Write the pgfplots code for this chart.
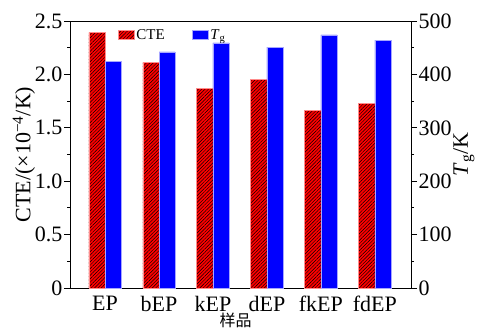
\documentclass[border=0pt]{standalone}
\usepackage{pgfplots}
\pgfplotsset{compat=1.18}
\usepackage{fontspec}
\setmainfont{Liberation Serif}
\newfontfamily\cjk{Noto Sans CJK SC}
\usetikzlibrary{patterns.meta}

\pgfplotsset{
  common/.style={
    scale only axis, width=341pt, height=267pt,
    xmin=-0.65, xmax=5.67,
    bar width=0.3,
    tick align=outside,
    major tick length=6pt, minor tick length=3pt,
    minor y tick num=1,
    axis line style={line width=1pt},
    every tick/.style={line width=1pt, black},
    yticklabel style={inner sep=1.5pt},
    /pgf/number format/assume math mode=true,
  },
  ctebar/.style={fill=red, draw=red!45, line width=0.6pt,
    postaction={pattern={Lines[angle=45,distance=2.4pt,line width=0.45pt]}, pattern color=black}},
  tgbar/.style={fill=blue, draw=blue!35, line width=0.6pt},
}

\begin{document}
\begin{tikzpicture}[font=\fontsize{22}{25}\selectfont]
% left axis: coefficient of thermal expansion
\begin{axis}[common, name=cte,
  ymin=0, ymax=2.5,
  xtick={0,...,5}, xticklabels={EP,bEP,kEP,dEP,fkEP,fdEP},
  x tick style={draw=none},
  xticklabel style={inner sep=2pt},
  ytick={0,0.5,...,2.5}, yticklabels={0,0.5,1.0,1.5,2.0,2.5},
  ytick pos=left,
  ylabel={CTE/(×10\textsuperscript{−4}/K)},
  ylabel style={inner sep=0pt, yshift=-2pt},
  xlabel={\cjk\fontsize{16}{18}\selectfont 样品},
  xlabel style={inner sep=0pt, yshift=1pt, xshift=-5pt},
  legend columns=2,
  legend style={draw=none, fill=none, at={(0.141,0.975)}, anchor=north west,
    inner sep=0pt,
    font=\fontsize{15}{17}\selectfont,
    nodes={inner sep=1.5pt},
    /tikz/every even column/.style={column sep=26pt}},
  legend image code/.code={\draw[#1] (0pt,-4.5pt) rectangle (16pt,4.5pt);},
]
\addplot[ybar, ctebar, bar shift=-0.15] coordinates {
  (0,2.39) (1,2.11) (2,1.87) (3,1.95) (4,1.66) (5,1.73)};
\addlegendentry{CTE}
\addlegendimage{tgbar}
\addlegendentry{\textit{T}\textsubscript{g}}
\end{axis}
% right axis: glass transition temperature
\begin{axis}[common,
  ymin=0, ymax=500,
  axis x line=none, axis y line*=right,
  ytick={0,100,...,500},
  yticklabel pos=right,
  ylabel near ticks,
  ylabel={\textit{T}\textsubscript{g}/K},
  ylabel style={inner sep=0pt},
]
\addplot[ybar, tgbar, bar shift=0.15] coordinates {
  (0,425) (1,442) (2,459) (3,451) (4,474) (5,464)};
\end{axis}
% fixed margins around the plot area
\pgfresetboundingbox
\path ([xshift=-70pt,yshift=-47pt]cte.south west) rectangle ([xshift=66pt,yshift=21pt]cte.north east);
\end{tikzpicture}
\end{document}
